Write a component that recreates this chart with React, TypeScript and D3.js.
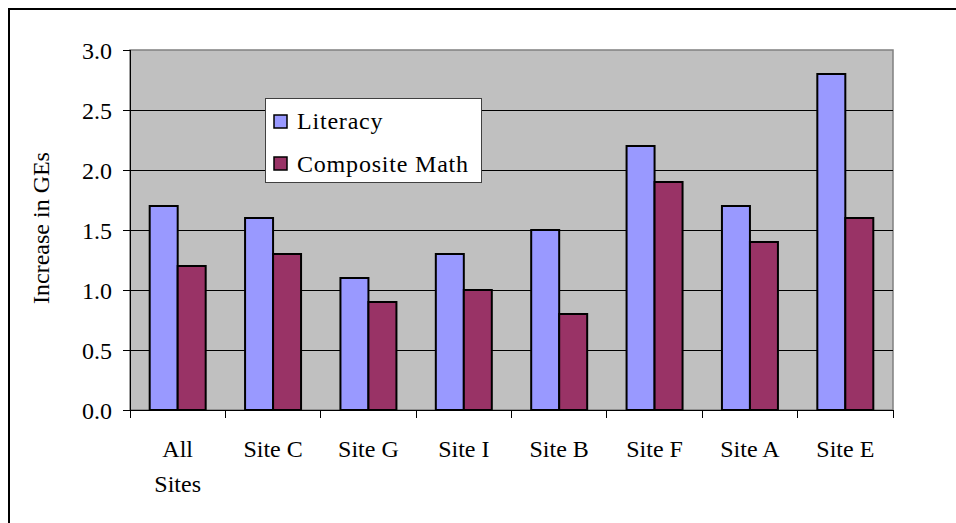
import React from "react";
import * as d3 from "d3";

const categories = ["All Sites", "Site C", "Site G", "Site I", "Site B", "Site F", "Site A", "Site E"];
const literacy = [1.7, 1.6, 1.1, 1.3, 1.5, 2.2, 1.7, 2.8];
const compositeMath = [1.2, 1.3, 0.9, 1.0, 0.8, 1.9, 1.4, 1.6];
const seriesNames = ["Literacy", "Composite Math"];
const seriesColors = ["#9999FF", "#993366"];
const yTicks = [0, 0.5, 1.0, 1.5, 2.0, 2.5, 3.0];
const yTitle = "Increase in GEs";

const W = 956;
const H = 523;
const plot = { left: 130, right: 893, top: 50, bottom: 410 };
const FONT = "'Liberation Serif', 'Times New Roman', serif";

export default function App() {
  const y = d3.scaleLinear().domain([0, 3]).range([plot.bottom, plot.top]);
  const xOuter = d3.scaleBand<string>().domain(categories).range([plot.left, plot.right]).paddingInner(0).paddingOuter(0);
  const xGroup = d3
    .scaleBand<string>()
    .domain(categories)
    .range([plot.left, plot.right])
    .paddingInner(0.413)
    .paddingOuter(0.2065);
  const xSeries = d3.scaleBand<string>().domain(seriesNames).range([0, xGroup.bandwidth()]).padding(0);
  const series = [literacy, compositeMath];
  const step = xOuter.step();
  const boundaries = d3.range(categories.length + 1).map((i) => plot.left + i * step);

  return (
    <svg
      width={W}
      height={H}
      style={{ position: "absolute", left: 0, top: 0, background: "#fff" }}
      fontFamily={FONT}
    >
      <rect x={9} y={9} width={1000} height={600} fill="#fff" stroke="#000" strokeWidth={2} />
      <rect
        x={plot.left}
        y={plot.top}
        width={plot.right - plot.left}
        height={plot.bottom - plot.top}
        fill="#C0C0C0"
        stroke="#808080"
        strokeWidth={1.5}
      />
      {yTicks.slice(1, -1).map((t) => (
        <line key={"g" + t} x1={plot.left} x2={plot.right} y1={y(t)} y2={y(t)} stroke="#000" strokeWidth={1} shapeRendering="crispEdges" />
      ))}
      {categories.map((c, ci) =>
        series.map((vals, si) => (
          <rect
            key={c + si}
            x={(xGroup(c) as number) + (xSeries(seriesNames[si]) as number)}
            y={y(vals[ci])}
            width={xSeries.bandwidth()}
            height={y(0) - y(vals[ci])}
            fill={seriesColors[si]}
            stroke="#000"
            strokeWidth={2}
          />
        ))
      )}
      {/* axes */}
      <line x1={plot.left} x2={plot.left} y1={plot.top} y2={plot.bottom} stroke="#000" strokeWidth={1} shapeRendering="crispEdges" />
      <line x1={plot.left} x2={plot.right} y1={plot.bottom} y2={plot.bottom} stroke="#000" strokeWidth={1} shapeRendering="crispEdges" />
      {yTicks.map((t) => (
        <g key={"t" + t}>
          <line x1={plot.left - 7} x2={plot.left} y1={y(t)} y2={y(t)} stroke="#000" strokeWidth={1} shapeRendering="crispEdges" />
          <text x={112} y={y(t) + 9} textAnchor="end" fontSize={24} fill="#000">
            {d3.format(".1f")(t)}
          </text>
        </g>
      ))}
      {boundaries.map((bx, i) => (
        <line key={"xt" + i} x1={bx} x2={bx} y1={plot.bottom} y2={plot.bottom + 8} stroke="#000" strokeWidth={1} shapeRendering="crispEdges" />
      ))}
      {categories.map((c) => {
        const cx = (xOuter(c) as number) + step / 2;
        const lines = c === "All Sites" ? ["All", "Sites"] : [c];
        return (
          <text key={"xl" + c} x={cx} y={457} textAnchor="middle" fontSize={24} fill="#000">
            {lines.map((ln, i) => (
              <tspan key={i} x={cx} dy={i === 0 ? 0 : 35}>
                {ln}
              </tspan>
            ))}
          </text>
        );
      })}
      <text
        transform={`translate(49, 228) rotate(-90)`}
        textAnchor="middle"
        fontSize={24}
        fill="#000"
      >
        {yTitle}
      </text>
      {/* legend */}
      <rect x={265} y={98} width={216} height={84} fill="#fff" stroke="#404040" strokeWidth={1} shapeRendering="crispEdges" />
      {seriesNames.map((s, i) => (
        <g key={"lg" + s}>
          <rect x={274} y={115 + i * 42} width={13} height={13} fill={seriesColors[i]} stroke="#000" strokeWidth={1.5} />
          <text x={297} y={129 + i * 43} fontSize={24} fill="#000" letterSpacing={0.8}>
            {s}
          </text>
        </g>
      ))}
    </svg>
  );
}
